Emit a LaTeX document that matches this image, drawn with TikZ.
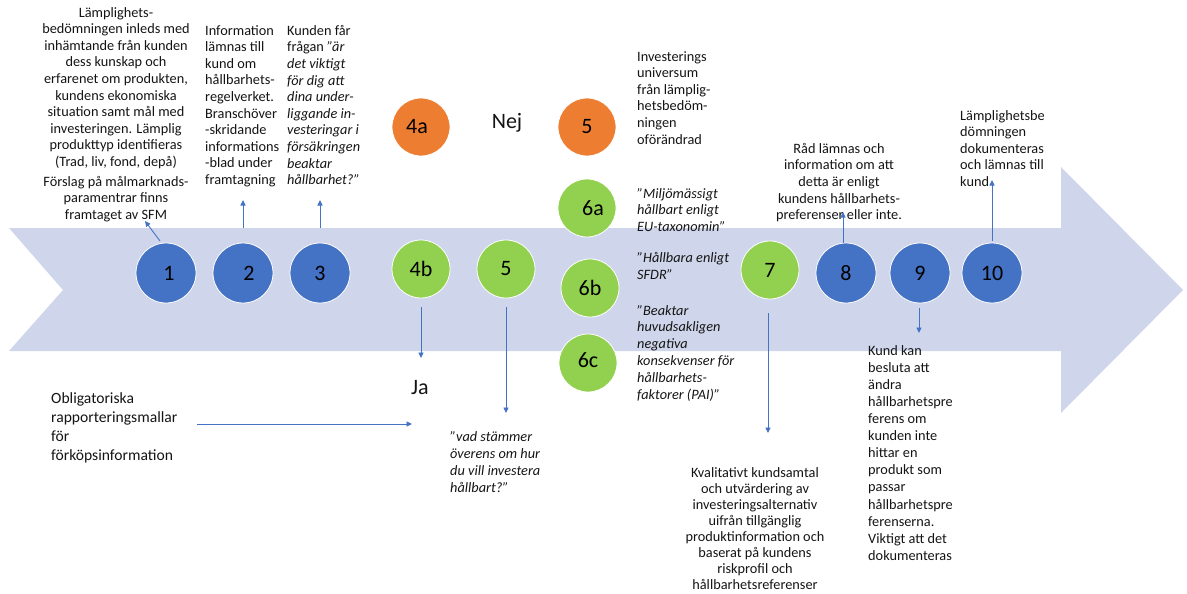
\documentclass[tikz,border=0pt]{standalone}
\usepackage{fontspec}
\setmainfont{Carlito}
\usetikzlibrary{arrows.meta}
\definecolor{band}{HTML}{CFD5EA}
\definecolor{cblue}{HTML}{4472C4}
\definecolor{cgreen}{HTML}{92D050}
\definecolor{corange}{HTML}{ED7D31}
\definecolor{txt}{HTML}{141414}
\begin{document}
\begin{tikzpicture}[x=1pt,y=-1pt,
  circ/.style={circle,draw=white,line width=0.8pt,minimum size=58pt,inner sep=0pt,font=\fontsize{22}{24}\selectfont,text=black},
  bluec/.style={circ,fill=cblue,minimum size=60pt},
  greenc/.style={circ,fill=cgreen},
  orangec/.style={circ,fill=corange},
  txtb/.style={inner sep=0pt,font=\fontsize{14.3}{16.6}\selectfont,text=txt,align=left,anchor=north west},
  txtc/.style={txtb,align=center,anchor=north},
  big/.style={inner sep=0pt,font=\fontsize{22}{24}\selectfont,text=txt},
  arr/.style={draw=cblue,line width=0.9pt,-{Triangle[length=5.5pt,width=5pt]},color=cblue}]
\path[use as bounding box] (0,0) rectangle (1187,594);
% band arrow
\fill[band] (9,228) -- (1061,228) -- (1061,167) -- (1183,290) -- (1061,413) -- (1061,351) -- (9,351) -- (63,290) -- cycle;

% circles
\node[bluec] (c1) at (166,273) {\hspace*{6pt}1};
\node[bluec] (c2) at (243,273) {\hspace*{12pt}2};
\node[bluec] (c3) at (320,273) {3};
\node[greenc] (c4b) at (421,269) {4b};
\node[greenc] (c5g) at (506,269) {5};
\node[orangec] (c4a) at (421,127) {4a\hspace*{8pt}};
\node[orangec] (c5o) at (587,127) {5};
\node[greenc] (c6a) at (587,208) {\hspace*{12pt}6a};
\node[greenc] (c6b) at (590,288) {\raisebox{-7pt}{6b}};
\node[greenc] (c6c) at (588,363) {\raisebox{5pt}{6c}};
\node[greenc] (c7) at (770,270) {7};
\node[bluec] (c8) at (846,273) {8};
\node[bluec] (c9) at (920,273) {9};
\node[bluec] (c10) at (992,273) {10};

% texts
\node[txtc] (t1) at (116,7) {Lämplighets-\\bedömningen inleds med\\inhämtande från kunden\\dess kunskap och\\erfarenet om produkten,\\kundens ekonomiska\\situation samt mål med\\investeringen. Lämplig\\produkttyp identifieras\\(Trad, liv, fond, depå)\\[3pt]Förslag på målmarknads-\\paramentrar finns\\framtaget av SFM};
\node[txtb] (t2) at (205,25) {Information\\lämnas till\\kund om\\hållbarhets-\\regelverket.\\Branschöver\\-skridande\\informations\\-blad under\\framtagning};
\node[txtb] (t3) at (287,25) {Kunden får\\frågan \textit{”är}\\\textit{det viktigt}\\\textit{för dig att}\\\textit{dina under-}\\\textit{liggande in-}\\\textit{vesteringar i}\\\textit{försäkringen}\\\textit{beaktar}\\\textit{hållbarhet?”}};
\node[txtb] (tinv) at (637,51) {Investerings\\universum\\från lämplig-\\hetsbedöm-\\ningen\\oförändrad};
\node[txtb,font=\fontsize{14.3}{16.8}\selectfont\itshape] (t6a) at (637,188) {”Miljömässigt\\hållbart enligt\\EU-taxonomin”};
\node[txtb,font=\fontsize{14.3}{16.8}\selectfont\itshape] (t6b) at (637,252) {”Hållbara enligt\\SFDR”};
\node[txtb,font=\fontsize{14.3}{16.8}\selectfont\itshape] (t6c) at (637,305) {”Beaktar\\huvudsakligen\\negativa\\konsekvenser för\\hållbarhets-\\faktorer (PAI)”};
\node[txtc] (t8) at (839,143) {Råd lämnas och\\information om att\\detta är enligt\\kundens hållbarhets-\\preferenser eller inte.};
\node[txtb] (t10) at (960,110) {Lämplighetsbe\\dömningen\\dokumenteras\\och lämnas till\\kund};
\node[txtb,font=\fontsize{14.3}{17.1}\selectfont] (t9) at (868,345) {Kund kan\\besluta att\\ändra\\hållbarhetspre\\ferens om\\kunden inte\\hittar en\\produkt som\\passar\\hållbarhetspre\\ferenserna.\\Viktigt att det\\dokumenteras};
\node[txtb,font=\fontsize{15.6}{19}\selectfont] (tob) at (51,392) {Obligatoriska\\rapporteringsmallar\\för\\förköpsinformation};
\node[txtb,font=\fontsize{14.3}{17}\selectfont\itshape] (tvad) at (450,431) {”vad stämmer\\överens om hur\\du vill investera\\hållbart?”};
\node[txtc,font=\fontsize{14.3}{16}\selectfont] (t7) at (755,467) {Kvalitativt kundsamtal\\och utvärdering av\\investeringsalternativ\\uifrån tillgänglig\\produktinformation och\\baserat på kundens\\riskprofil och\\hållbarhetsreferenser};
\node[big] (nej) at (507,123) {Nej};
\node[big] (ja) at (420,388) {Ja};

% connector coordinates
\coordinate (a1s) at (160,241);
\coordinate (a1e) at (145,221);
\coordinate (a2s) at (243,228);
\coordinate (a2e) at (243,200);
\coordinate (a3s) at (320,228);
\coordinate (a3e) at (320,200);
\coordinate (a4s) at (421,307);
\coordinate (a4e) at (421,358);
\coordinate (a5s) at (506,307);
\coordinate (a5e) at (506,413);
\coordinate (aos) at (197,424);
\coordinate (aoe) at (412,424);
\coordinate (a7s) at (768,313);
\coordinate (a7e) at (768,433);
\coordinate (a8s) at (843,243);
\coordinate (a8e) at (843,212);
\coordinate (a9s) at (919,308);
\coordinate (a9e) at (919,333);
\coordinate (a10s) at (992,241);
\coordinate (a10e) at (992,180);

\draw[arr] (a1s) -- (a1e);
\draw[arr] (a2s) -- (a2e);
\draw[arr] (a3s) -- (a3e);
\draw[arr] (a4s) -- (a4e);
\draw[arr] (a5s) -- (a5e);
\draw[arr] (aos) -- (aoe);
\draw[arr] (a7s) -- (a7e);
\draw[arr] (a8s) -- (a8e);
\draw[arr] (a9s) -- (a9e);
\draw[arr] (a10s) -- (a10e);
\end{tikzpicture}
\end{document}
